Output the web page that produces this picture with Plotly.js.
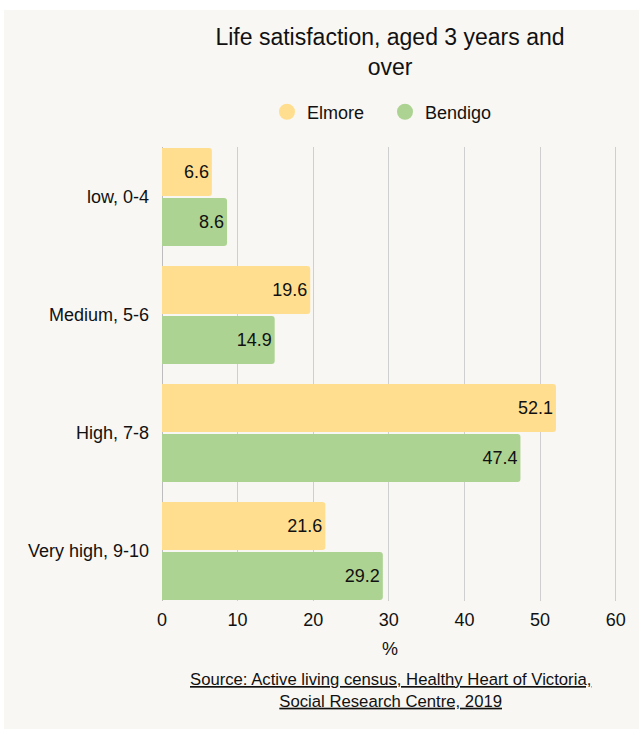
<!DOCTYPE html>
<html>
<head>
<meta charset="utf-8">
<script src="https://cdn.plot.ly/plotly-3.0.1.min.js"></script>
<style>
  html, body { margin: 0; padding: 0; background: #ffffff; }
  #chart { position: absolute; left: 4px; top: 10px; width: 635px; height: 719px; }
</style>
</head>
<body>
<div id="chart"></div>
<script>
const categories = ["low, 0-4", "Medium, 5-6", "High, 7-8", "Very high, 9-10"];
const seriesNames = ["Elmore", "Bendigo"];
const elmore = [6.6, 19.6, 52.1, 21.6];
const bendigo = [8.6, 14.9, 47.4, 29.2];
const xTicks = [0, 10, 20, 30, 40, 50, 60];
const chartTitle = "Life satisfaction, aged 3 years and<br>over";
const xTitle = "%";
const sourceText = "Source: Active living census, Healthy Heart of Victoria,<br>Social Research Centre, 2019";

const colors = ["#FFDF8F", "#ADD393"];
const FONT = "Liberation Sans, Arial, Helvetica, sans-serif";
const seriesValues = [elmore, bendigo];

const traces = [];
seriesValues.forEach(function (vals, i) {
  traces.push({
    type: "bar",
    orientation: "h",
    name: seriesNames[i],
    y: categories,
    x: vals,
    text: vals.map(function (v) { return v.toFixed(1); }),
    textposition: "inside",
    insidetextanchor: "end",
    textangle: 0,
    constraintext: "none",
    textfont: { family: FONT, size: 18, color: "#111111" },
    marker: { color: colors[i], cornerradius: 3, line: { width: 0 } },
    showlegend: false,
    hoverinfo: "x+y"
  });
});
seriesNames.forEach(function (n, i) {
  traces.push({
    type: "scatter",
    mode: "markers",
    name: n,
    x: [null],
    y: [null],
    marker: { color: colors[i], size: 18, symbol: "circle" },
    showlegend: true,
    hoverinfo: "skip"
  });
});

const layout = {
  width: 635,
  height: 719,
  paper_bgcolor: "#F9F7F3",
  plot_bgcolor: "#F9F7F3",
  margin: { l: 158, r: 21, t: 137, b: 128 },
  font: { family: FONT, size: 18, color: "#111111" },
  title: {
    text: chartTitle,
    font: { family: FONT, size: 23, color: "#111111" },
    x: 0.5, xref: "paper", xanchor: "center",
    y: 0.951, yref: "container", yanchor: "top"
  },
  barmode: "group",
  bargap: 0.1525,
  bargroupgap: 0.04,
  showlegend: true,
  legend: {
    orientation: "h",
    x: 0.489, xanchor: "center",
    y: 1.077, yanchor: "middle",
    font: { family: FONT, size: 18, color: "#111111" },
    bgcolor: "rgba(0,0,0,0)",
    traceorder: "normal",
    entrywidth: 73,
    entrywidthmode: "pixels"
  },
  xaxis: {
    range: [0, 60.3],
    tickvals: xTicks,
    ticktext: xTicks.map(String),
    showgrid: true,
    gridcolor: "#CFCFCF",
    gridwidth: 1,
    zeroline: true,
    zerolinecolor: "#BDBDBD",
    zerolinewidth: 1,
    showline: false,
    ticks: "",
    tickfont: { family: FONT, size: 18, color: "#111111" },
    ticklabelstandoff: 6,
    title: { text: xTitle, font: { family: FONT, size: 18, color: "#111111" }, standoff: 13 },
    fixedrange: true
  },
  yaxis: {
    type: "category",
    range: [3.4237, -0.4237],
    showgrid: false,
    zeroline: false,
    showline: false,
    ticks: "",
    ticklabelstandoff: 12,
    tickfont: { family: FONT, size: 18, color: "#111111" },
    fixedrange: true
  },
  annotations: [{
    text: sourceText,
    xref: "paper", yref: "paper",
    x: 0.5, xanchor: "center",
    y: -0.1474, yanchor: "top",
    showarrow: false,
    align: "center",
    font: { family: FONT, size: 16.7, color: "#111111", lineposition: "under" }
  }]
};

Plotly.newPlot("chart", traces, layout, { displayModeBar: false, responsive: false });
</script>
</body>
</html>
